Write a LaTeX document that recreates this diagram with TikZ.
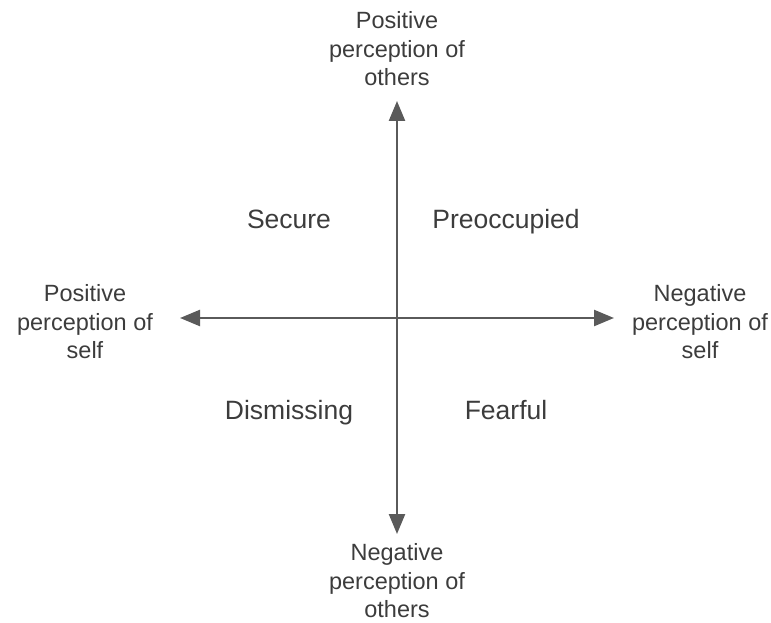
\documentclass[tikz,border=0pt]{standalone}
\usepackage{fontspec}
\setmainfont{Liberation Sans}
\usetikzlibrary{arrows.meta}
\definecolor{axisgray}{HTML}{5A5A5A}
\definecolor{textgray}{HTML}{3C3C3C}
\tikzset{
  axis/.style={-{Triangle[length=20pt,width=16pt]},line width=2.4pt,draw=axisgray},
  pole/.style={align=center,text=textgray,inner sep=0pt,font=\fontsize{23.5}{28.5}\selectfont},
  quad/.style={anchor=base,text=textgray,inner sep=0pt,font=\fontsize{26.5}{30}\selectfont}
}
\begin{document}
\begin{tikzpicture}[x=1pt,y=-1pt]
                \useasboundingbox (0,0) rectangle (771,623);
                \coordinate (o) at (397,318);
                \coordinate (top) at (397,101);
                \coordinate (bottom) at (397,534);
                \coordinate (left) at (180,318);
                \coordinate (right) at (614,318);
                % axes
                \draw[axis] (o)--(top);
                \draw[axis] (o)--(bottom);
                \draw[axis] (o)--(left);
                \draw[axis] (o)--(right);
                % ends of the axes
                \node[pole] (others+) at (397,49) {Positive\\perception of\\others};
                \node[pole] (others-) at (397,581) {Negative\\perception of\\others};
                \node[pole] (self+) at (85,322) {Positive\\perception of\\self};
                \node[pole] (self-) at (700,322) {Negative\\perception of\\self};
                % quadrants
                \node[quad] (secure) at (289,228) {Secure};
                \node[quad] (preocc) at (506,228) {Preoccupied};
                \node[quad] (dismiss) at (289,419) {Dismissing};
                \node[quad] (fearful) at (506,419) {Fearful};
\end{tikzpicture}
\end{document}
